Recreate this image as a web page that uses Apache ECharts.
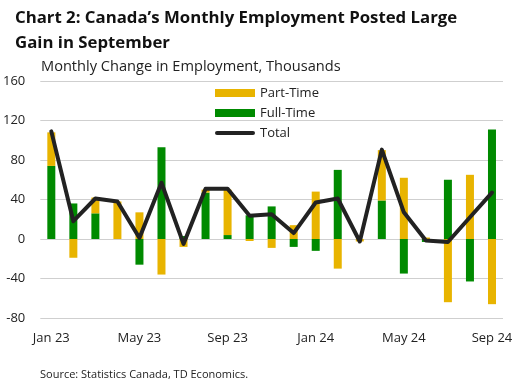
<!DOCTYPE html>
<html><head><meta charset="utf-8">
<script src="https://cdn.jsdelivr.net/npm/echarts@6/dist/echarts.min.js"></script>
<style>html,body{margin:0;padding:0;background:#fff}#c{width:516px;height:384px}</style>
</head><body><div id="c"></div>
<script>
var categories = ['Jan 23','Feb 23','Mar 23','Apr 23','May 23','Jun 23','Jul 23','Aug 23','Sep 23','Oct 23','Nov 23','Dec 23',
                  'Jan 24','Feb 24','Mar 24','Apr 24','May 24','Jun 24','Jul 24','Aug 24','Sep 24'];
var fullTime = [74, 36, 26, 0, -26, 93, 3, 47, 4, 24, 33, -8, -12, 70, 0, 39, -35, -3, 60, -43, 111];
var partTime = [34, -19, 16, 38, 27, -36, -8, 3, 46, -2, -9, 14, 48, -30, -2.5, 51, 62, 1.5, -64, 65, -66];
var total = [109, 18, 41, 38, 1, 57, -5, 51, 51, 23.5, 25, 6, 37, 41, -2.5, 90.5, 27, -1.5, -3, 22, 47];
var yTicks = [-80, -40, 0, 40, 80, 120, 160];
var xTickLabels = ['Jan 23','May 23','Sep 23','Jan 24','May 24','Sep 24'];

var FONT = '"Open Sans", Lato, sans-serif';
var chart = echarts.init(document.getElementById('c'), null, {renderer: 'canvas'});
chart.setOption({
  animation: false,
  backgroundColor: '#fff',
  title: [
    {text: "Chart 2: Canada\u2019s Monthly Employment Posted Large\nGain in September", left: 15, top: 6, padding: 0,
     textStyle: {fontFamily: FONT, fontSize: 16.8, fontWeight: 'bold', color: '#111', lineHeight: 25}},
    {text: 'Monthly Change in Employment, Thousands', left: 41, top: 59, padding: 0,
     textStyle: {fontFamily: FONT, fontSize: 14.6, fontWeight: 'normal', color: '#222', lineHeight: 16}},
    {text: 'Source: Statistics Canada, TD Economics.', left: 40, top: 368, padding: 0,
     textStyle: {fontFamily: FONT, fontSize: 11, fontWeight: 'normal', color: '#222', lineHeight: 14}}
  ],
  legend: {
    orient: 'vertical', left: 215, top: 86, padding: 0, itemWidth: 40, itemHeight: 8, itemGap: 6,
    textStyle: {fontFamily: FONT, fontSize: 13, color: '#222', lineHeight: 14},
    data: [
      {name: 'Part-Time', icon: 'rect'},
      {name: 'Full-Time', icon: 'rect'},
      {name: 'Total', icon: 'path://M2,0 L38,0 A2,2 0 0 1 38,4 L2,4 A2,2 0 0 1 2,0 Z'}
    ]
  },
  grid: {left: 40, right: 13, top: 81, bottom: 66, containLabel: false},
  xAxis: {
    type: 'category', data: categories, boundaryGap: true,
    axisLine: {show: false}, axisTick: {show: false},
    axisLabel: {
      interval: 0, margin: 14, fontFamily: FONT, fontSize: 13, color: '#222',
      formatter: function (v) { return xTickLabels.indexOf(v) >= 0 ? v : ''; }
    }
  },
  yAxis: {
    type: 'value', min: yTicks[0], max: yTicks[yTicks.length - 1], interval: 40,
    axisLine: {show: false}, axisTick: {show: false},
    splitLine: {lineStyle: {color: '#cfcfcf', width: 1}},
    axisLabel: {margin: 15, fontFamily: FONT, fontSize: 13, color: '#222'}
  },
  series: [
    {name: 'Full-Time', type: 'bar', stack: 'emp', stackStrategy: 'samesign', data: fullTime, barWidth: 8,
     itemStyle: {color: '#008A00'}},
    {name: 'Part-Time', type: 'bar', stack: 'emp', stackStrategy: 'samesign', data: partTime, barWidth: 8,
     itemStyle: {color: '#E8B400'}},
    {name: 'Total', type: 'line', data: total, symbol: 'none', showSymbol: false, z: 5,
     lineStyle: {color: '#222', width: 4, cap: 'round', join: 'round'}, itemStyle: {color: '#222'}}
  ]
});
</script></body></html>
